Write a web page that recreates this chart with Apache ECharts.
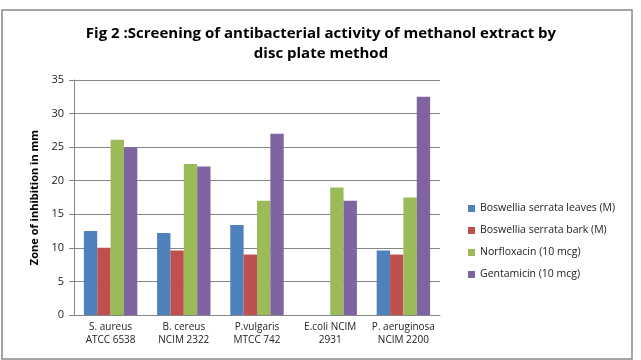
<!DOCTYPE html>
<html>
<head>
<meta charset="utf-8">
<script src="https://cdn.jsdelivr.net/npm/echarts@6/dist/echarts.min.js"></script>
<style>
  html, body { margin: 0; padding: 0; background: #fff; }
  #main { width: 641px; height: 360px; }
</style>
</head>
<body>
<div id="main"></div>
<script>
var categories = ['S. aureus\nATCC 6538', 'B. cereus\nNCIM 2322', 'P.vulgaris\nMTCC 742', 'E.coli NCIM\n2931', 'P. aeruginosa\nNCIM 2200']
var seriesNames = ['Boswellia serrata leaves (M)', 'Boswellia serrata bark (M)', 'Norfloxacin (10 mcg)', 'Gentamicin (10 mcg)']
var leaves = [12.5, 12.2, 13.4, null, 9.6]
var bark = [10, 9.6, 9, null, 9]
var norfloxacin = [26.1, 22.5, 17, 19, 17.5]
var gentamicin = [25, 22.1, 27, 17, 32.5]
var colors = ['#4F81BD', '#C0504D', '#9BBB59', '#8064A2']

var font = 'Open Sans'
var chart = echarts.init(document.getElementById('main'))

function bar (name, data, color) {
  return {
    name: name,
    type: 'bar',
    data: data,
    barGap: '0%',
    barCategoryGap: '27%',
    itemStyle: { color: color }
  }
}

chart.setOption({
  animation: false,
  color: colors,
  title: {
    text: 'Fig 2 :Screening of antibacterial activity of methanol extract by\ndisc plate method',
    left: 316,
    top: 19,
    textAlign: 'center',
    textStyle: { fontFamily: font, fontSize: 15, fontWeight: 'bold', color: '#000', lineHeight: 20 }
  },
  legend: {
    orient: 'vertical',
    left: 463,
    top: 198,
    itemWidth: 7,
    itemHeight: 7,
    itemGap: 11,
    icon: 'rect',
    textStyle: { fontFamily: font, fontSize: 10.5, color: '#222' }
  },
  grid: { left: 74, right: 201, top: 80, bottom: 45 },
  xAxis: {
    type: 'category',
    data: categories,
    axisLine: { lineStyle: { color: '#868686' } },
    axisTick: { show: false },
    axisLabel: { fontFamily: font, fontSize: 10, color: '#222', lineHeight: 13, margin: 6, interval: 0 }
  },
  yAxis: {
    type: 'value',
    min: 0,
    max: 35,
    interval: 5,
    name: 'Zone of inhibition in mm',
    nameLocation: 'middle',
    nameGap: 29,
    nameTextStyle: { fontFamily: font, fontSize: 11, fontWeight: 'bold', color: '#000' },
    axisLine: { show: true, lineStyle: { color: '#868686' } },
    axisTick: { show: true, length: 5, lineStyle: { color: '#868686' } },
    axisLabel: { fontFamily: font, fontSize: 11, color: '#222', margin: 10 },
    splitLine: { lineStyle: { color: '#868686' } }
  },
  graphic: [{
    type: 'rect',
    shape: { x: 2, y: 10, width: 630, height: 349 },
    style: { fill: 'none', stroke: '#888', lineWidth: 1.5 },
    silent: true
  }],
  series: [
    bar(seriesNames[0], leaves, colors[0]),
    bar(seriesNames[1], bark, colors[1]),
    bar(seriesNames[2], norfloxacin, colors[2]),
    bar(seriesNames[3], gentamicin, colors[3])
  ]
})
</script>
</body>
</html>
